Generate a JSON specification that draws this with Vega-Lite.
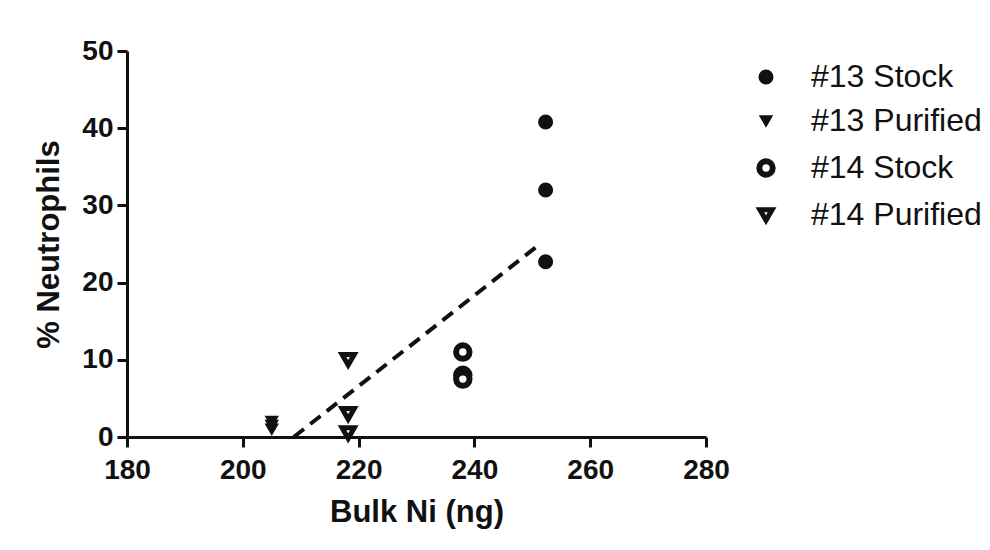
{
  "$schema": "https://vega.github.io/schema/vega-lite/v6.json",
  "autosize": {"type": "none"},
  "width": 579,
  "height": 386,
  "padding": {"left": 127, "top": 51, "right": 284, "bottom": 113},
  "background": "white",
  "config": {
    "view": {"stroke": null},
    "font": "Liberation Sans",
    "axis": {
      "grid": false,
      "labelFlush": false,
      "labelOverlap": false,
      "domainColor": "#111",
      "domainWidth": 3,
      "tickColor": "#111",
      "tickWidth": 3,
      "tickSize": 10,
      "labelFont": "Liberation Sans",
      "labelFontWeight": "bold",
      "labelFontSize": 28,
      "labelColor": "#111",
      "titleFont": "Liberation Sans",
      "titleFontWeight": "bold",
      "titleFontSize": 31,
      "titleColor": "#111"
    }
  },
  "datasets": {
    "pts": [
      {"bulk_ni": 252.3, "neutrophils": 40.8, "group": "#13 Stock"},
      {"bulk_ni": 252.3, "neutrophils": 32.0, "group": "#13 Stock"},
      {"bulk_ni": 252.3, "neutrophils": 22.7, "group": "#13 Stock"},
      {"bulk_ni": 205.0, "neutrophils": 2.0, "group": "#13 Purified"},
      {"bulk_ni": 205.0, "neutrophils": 1.5, "group": "#13 Purified"},
      {"bulk_ni": 205.0, "neutrophils": 1.0, "group": "#13 Purified"},
      {"bulk_ni": 238.0, "neutrophils": 11.0, "group": "#14 Stock"},
      {"bulk_ni": 238.0, "neutrophils": 8.0, "group": "#14 Stock"},
      {"bulk_ni": 238.0, "neutrophils": 7.5, "group": "#14 Stock"},
      {"bulk_ni": 218.2, "neutrophils": 10.0, "group": "#14 Purified"},
      {"bulk_ni": 218.2, "neutrophils": 3.0, "group": "#14 Purified"},
      {"bulk_ni": 218.2, "neutrophils": 0.5, "group": "#14 Purified"}
    ],
    "fit": [
      {"bulk_ni": 208.8, "neutrophils": 0},
      {"bulk_ni": 251.0, "neutrophils": 24.8}
    ]
  },
  "layer": [
    {
      "data": {"name": "fit"},
      "mark": {"type": "line", "color": "#111", "strokeWidth": 4, "strokeDash": [13, 8]},
      "encoding": {
        "x": {"field": "bulk_ni", "type": "quantitative", "scale": {"domain": [180, 280], "nice": false, "zero": false}},
        "y": {"field": "neutrophils", "type": "quantitative", "scale": {"domain": [0, 50], "nice": false}}
      }
    },
    {
      "data": {"name": "pts"},
      "mark": {"type": "point", "filled": false, "stroke": "#111", "opacity": 1},
      "encoding": {
        "x": {
          "field": "bulk_ni", "type": "quantitative",
          "scale": {"domain": [180, 280], "nice": false, "zero": false},
          "axis": {"title": "Bulk Ni (ng)", "values": [180, 200, 220, 240, 260, 280], "labelPadding": 9, "titlePadding": 13}
        },
        "y": {
          "field": "neutrophils", "type": "quantitative",
          "scale": {"domain": [0, 50], "nice": false},
          "axis": {"title": "% Neutrophils", "values": [0, 10, 20, 30, 40, 50], "labelPadding": 4, "titlePadding": 16}
        },
        "shape": {
          "field": "group", "type": "nominal",
          "scale": {"domain": ["#13 Stock", "#13 Purified", "#14 Stock", "#14 Purified"], "range": ["circle", "triangle-down", "circle", "triangle-down"]},
          "legend": {
            "title": null, "orient": "none", "legendX": 623, "legendY": 10,
            "labelFontSize": 32, "labelFont": "Liberation Sans", "labelColor": "#111", "labelLimit": 400,
            "rowPadding": 12, "labelOffset": 29, "symbolStrokeColor": "#111"
          }
        },
        "fill": {
          "field": "group", "type": "nominal",
          "scale": {"domain": ["#13 Stock", "#13 Purified", "#14 Stock", "#14 Purified"], "range": ["#111", "#111", "white", "white"]}
        },
        "size": {
          "field": "group", "type": "nominal",
          "scale": {"type": "ordinal", "domain": ["#13 Stock", "#13 Purified", "#14 Stock", "#14 Purified"], "range": [170, 120, 180, 150]}
        },
        "strokeWidth": {
          "field": "group", "type": "nominal",
          "scale": {"type": "ordinal", "domain": ["#13 Stock", "#13 Purified", "#14 Stock", "#14 Purified"], "range": [2, 2, 6, 5]}
        }
      }
    }
  ]
}
